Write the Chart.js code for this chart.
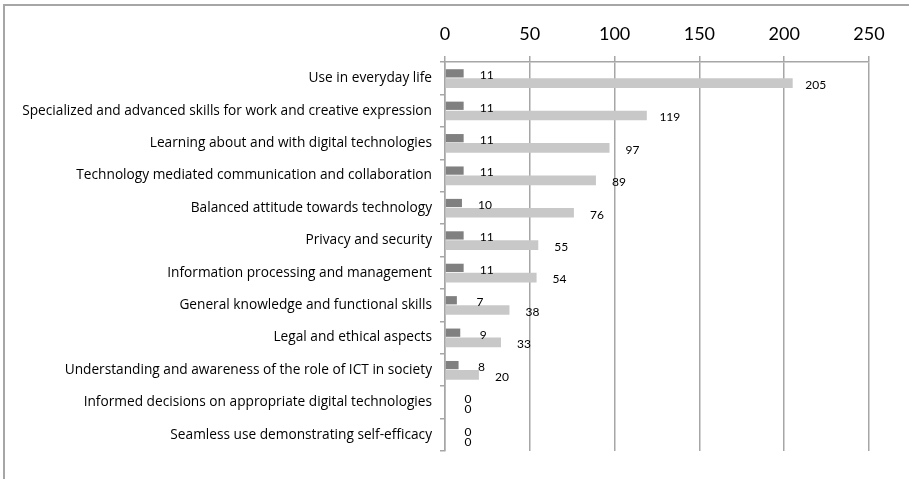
<!DOCTYPE html>
<html>
<head>
<meta charset="utf-8">
<script src="https://cdn.jsdelivr.net/npm/chart.js@4/dist/chart.umd.min.js"></script>
<style>
  body { margin: 0; background: #fff; overflow: hidden; }
  #frame { position: absolute; left: 3px; top: 4px; width: 1000px; height: 600px;
           border-top: 2px solid #a6a6a6; border-left: 2px solid #a6a6a6; }
  #chart { position: absolute; left: 0; top: 0; }
</style>
</head>
<body>
<div id="frame"></div>
<canvas id="chart" width="909" height="479"></canvas>
<script>
const categories = [
  'Use in everyday life',
  'Specialized and advanced skills for work and creative expression',
  'Learning about and with digital technologies',
  'Technology mediated communication and collaboration',
  'Balanced attitude towards technology',
  'Privacy and security',
  'Information processing and management',
  'General knowledge and functional skills',
  'Legal and ethical aspects',
  'Understanding and awareness of the role of ICT in society',
  'Informed decisions on appropriate digital technologies',
  'Seamless use demonstrating self-efficacy'
];
const darkValues = [11, 11, 11, 11, 10, 11, 11, 7, 9, 8, 0, 0];
const lightValues = [205, 119, 97, 89, 76, 55, 54, 38, 33, 20, 0, 0];
const xTicks = [0, 50, 100, 150, 200, 250];

const gridGray = '#a6a6a6';
const fontFamily = 'Lato, "Liberation Sans", sans-serif';
const labelFamily = '"Open Sans", Lato, sans-serif';

// value labels drawn to the right of every bar
const valueLabels = {
  id: 'valueLabels',
  afterDatasetsDraw(chart) {
    const ctx = chart.ctx;
    ctx.save();
    ctx.font = '12px ' + fontFamily;
    ctx.fillStyle = '#000';
    ctx.textAlign = 'center';
    ctx.textBaseline = 'middle';
    chart.data.datasets.forEach((ds, i) => {
      chart.getDatasetMeta(i).data.forEach((bar, j) => {
        ctx.fillText(ds.data[j], bar.x + 23, bar.y + 2);
      });
    });
    ctx.restore();
  }
};

new Chart(document.getElementById('chart'), {
  type: 'bar',
  data: {
    labels: categories,
    datasets: [
      {
        label: 'A',
        data: darkValues,
        backgroundColor: '#808080',
        barPercentage: 0.85,
        categoryPercentage: 0.6
      },
      {
        label: 'B',
        data: lightValues,
        backgroundColor: '#c8c8c8',
        barPercentage: 1.0,
        categoryPercentage: 0.6
      }
    ]
  },
  options: {
    indexAxis: 'y',
    responsive: false,
    animation: false,
    layout: { padding: { left: 0, top: 0, right: 40, bottom: 28 } },
    plugins: {
      legend: { display: false },
      tooltip: { enabled: false }
    },
    scales: {
      x: {
        position: 'top',
        min: 0,
        max: 250,
        afterBuildTicks: (scale) => { scale.ticks = xTicks.map(v => ({ value: v })); },
        afterFit: (scale) => { scale.height = 62; },
        grid: { color: gridGray, lineWidth: 1.5, tickLength: 6 },
        border: { color: gridGray, width: 1.5 },
        ticks: {
          color: '#000',
          padding: 11,
          font: { family: fontFamily, size: 18 }
        }
      },
      y: {
        afterFit: (scale) => { scale.width = 445; },
        grid: { drawOnChartArea: false, color: gridGray, lineWidth: 1.5, tickLength: 5 },
        border: { color: gridGray, width: 1.5 },
        ticks: {
          color: '#000',
          padding: 8,
          autoSkip: false,
          font: { family: labelFamily, size: 13.7 }
        }
      }
    }
  },
  plugins: [valueLabels]
});
</script>
</body>
</html>
